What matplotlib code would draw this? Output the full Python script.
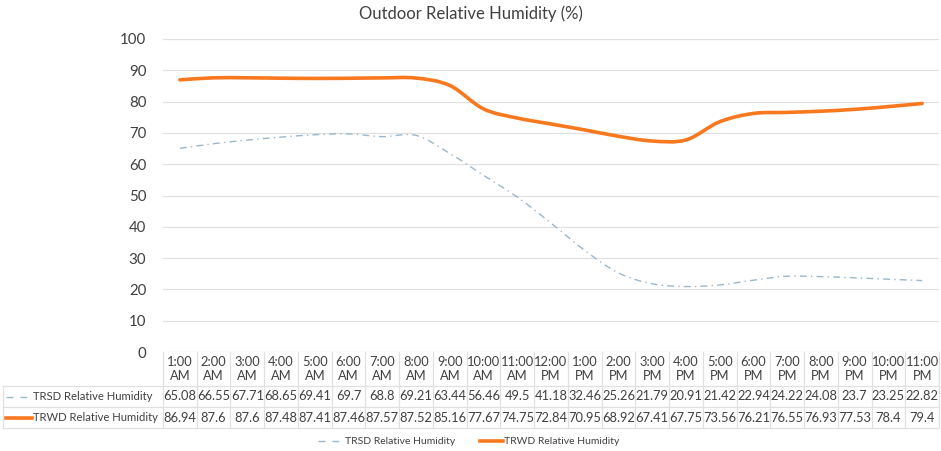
import matplotlib
matplotlib.use("Agg")
import matplotlib.pyplot as plt
import numpy as np
from matplotlib.path import Path
from matplotlib.patches import PathPatch
from matplotlib.lines import Line2D
from matplotlib.transforms import blended_transform_factory

plt.rcParams['font.family'] = ['Lato', 'DejaVu Sans']

hours = ["1:00\nAM", "2:00\nAM", "3:00\nAM", "4:00\nAM", "5:00\nAM", "6:00\nAM",
         "7:00\nAM", "8:00\nAM", "9:00\nAM", "10:00\nAM", "11:00\nAM", "12:00\nPM",
         "1:00\nPM", "2:00\nPM", "3:00\nPM", "4:00\nPM", "5:00\nPM", "6:00\nPM",
         "7:00\nPM", "8:00\nPM", "9:00\nPM", "10:00\nPM", "11:00\nPM"]
trsd = [65.08, 66.55, 67.71, 68.65, 69.41, 69.7, 68.8, 69.21, 63.44, 56.46, 49.5, 41.18,
        32.46, 25.26, 21.79, 20.91, 21.42, 22.94, 24.22, 24.08, 23.7, 23.25, 22.82]
trwd = [86.94, 87.6, 87.6, 87.48, 87.41, 87.46, 87.57, 87.52, 85.16, 77.67, 74.75, 72.84,
        70.95, 68.92, 67.41, 67.75, 73.56, 76.21, 76.55, 76.93, 77.53, 78.4, 79.4]
trsd_label = "TRSD Relative Humidity"
trwd_label = "TRWD Relative Humidity"
title = "Outdoor Relative Humidity (%)"

TXT = '#404040'
GRID = '#E0E0E0'
ORANGE = '#F8781F'
BLUE = '#9BB7C9'

W, H = 941, 451
fig = plt.figure(figsize=(W / 100, H / 100), dpi=100)
L, R = 163 / W, 939 / W
B, T = 1 - 352 / H, 1 - 39 / H
ax = fig.add_axes([L, B, R - L, T - B])
n = len(hours)
x = np.arange(n)
ax.set_xlim(-0.5, n - 0.5)
ax.set_ylim(0, 100)
ax.set_yticks(np.arange(0, 101, 10))
ax.tick_params(axis='y', length=0, labelsize=10.8, labelcolor=TXT, pad=12)
ax.set_xticks([])
for s in ax.spines.values():
    s.set_visible(False)
ax.grid(axis='y', color=GRID, linewidth=0.9)
ax.set_axisbelow(True)


def smooth_path(xs, ys):
    pts = np.column_stack([xs, ys]).astype(float)
    verts = [pts[0]]
    codes = [Path.MOVETO]
    for i in range(len(pts) - 1):
        p0 = pts[i - 1] if i > 0 else pts[i]
        p1 = pts[i]
        p2 = pts[i + 1]
        p3 = pts[i + 2] if i + 2 < len(pts) else pts[i + 1]
        c1 = p1 + (p2 - p0) / 6.0
        c2 = p2 - (p3 - p1) / 6.0
        verts += [c1, c2, p2]
        codes += [Path.CURVE4] * 3
    return Path(verts, codes)


DASH = (0, (5, 3, 1, 3))
ax.add_patch(PathPatch(smooth_path(x, trsd), facecolor='none', edgecolor=BLUE,
                       linewidth=1.0, linestyle=DASH, zorder=3))
ax.add_patch(PathPatch(smooth_path(x, trwd), facecolor='none', edgecolor=ORANGE,
                       linewidth=2.6, capstyle='round', joinstyle='round', zorder=4))

fig.text(0.5, 1 - 14 / H, title, ha='center', va='center', fontsize=12, color=TXT)

# data table
tr = blended_transform_factory(ax.transData, fig.transFigure)
y_top = 1 - 352 / H
y_r1 = 1 - 386 / H
y_r2 = 1 - 407 / H
y_bot = 1 - 428 / H
x_left_fig = 3 / W
lkw = dict(color=GRID, linewidth=0.9, clip_on=False)
for i in range(n + 1):
    xb = i - 0.5
    fig.add_artist(Line2D([xb, xb], [y_top, y_bot], transform=tr, **lkw))
for yy in (y_r1, y_r2, y_bot):
    fig.add_artist(Line2D([x_left_fig, R], [yy, yy], transform=fig.transFigure, **lkw))
fig.add_artist(Line2D([x_left_fig, x_left_fig], [y_r1, y_bot], transform=fig.transFigure, **lkw))

for i in range(n):
    fig.text(x[i], (y_top + y_r1) / 2, hours[i], transform=tr, ha='center', va='center',
             fontsize=9.3, color=TXT, linespacing=1.2)
    fig.text(x[i], (y_r1 + y_r2) / 2, f"{trsd[i]:g}", transform=tr, ha='center', va='center',
             fontsize=9.3, color=TXT)
    fig.text(x[i], (y_r2 + y_bot) / 2, f"{trwd[i]:g}", transform=tr, ha='center', va='center',
             fontsize=9.3, color=TXT)

ym1 = (y_r1 + y_r2) / 2
ym2 = (y_r2 + y_bot) / 2
fig.add_artist(Line2D([6 / W, 31 / W], [ym1, ym1], transform=fig.transFigure, color=BLUE,
                      linewidth=1.0, linestyle=(0, (5, 5))))
fig.add_artist(Line2D([6 / W, 32 / W], [ym2, ym2], transform=fig.transFigure, color=ORANGE,
                      linewidth=2.6))
fig.text(33 / W, ym1, trsd_label, ha='left', va='center', fontsize=8.1, color=TXT)
fig.text(33 / W, ym2, trwd_label, ha='left', va='center', fontsize=8.1, color=TXT)

# legend
yl = 1 - 441 / H
fig.add_artist(Line2D([318 / W, 343 / W], [yl, yl], transform=fig.transFigure, color=BLUE,
                      linewidth=1.0, linestyle=(0, (5, 5))))
fig.text(345 / W, yl, trsd_label, ha='left', va='center', fontsize=7.5, color=TXT)
fig.add_artist(Line2D([480 / W, 503 / W], [yl, yl], transform=fig.transFigure, color=ORANGE,
                      linewidth=2.6))
fig.text(504 / W, yl, trwd_label, ha='left', va='center', fontsize=7.5, color=TXT)

fig.savefig("out.png", dpi=100)
